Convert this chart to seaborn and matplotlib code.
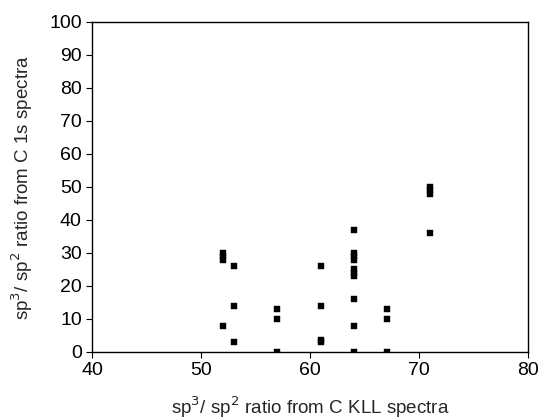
import pandas as pd
import seaborn as sns
import matplotlib.pyplot as plt

# sp3/sp2 ratios: C KLL (x) vs C 1s (y)
kll_ratio = [52, 52, 52, 52,
             53, 53, 53,
             57, 57, 57,
             61, 61, 61, 61,
             64, 64, 64, 64, 64, 64, 64, 64, 64, 64,
             67, 67, 67,
             71, 71, 71, 71]
c1s_ratio = [8, 28, 29, 30,
             3, 14, 26,
             0, 10, 13,
             3, 3.5, 14, 26,
             0, 8, 16, 23, 24, 25, 28, 29, 30, 37,
             0, 10, 13,
             36, 48, 49, 50]

x_ticks = [40, 50, 60, 70, 80]
y_ticks = [0, 10, 20, 30, 40, 50, 60, 70, 80, 90, 100]


def main():
    df = pd.DataFrame({'kll': kll_ratio, 'c1s': c1s_ratio})

    sns.set_style("ticks")
    plt.rcParams['font.family'] = ['Liberation Sans', 'DejaVu Sans']

    fig = plt.figure(figsize=(5.39, 4.19), dpi=100)
    ax = fig.add_axes([0.171, 0.16, 0.809, 0.7875])

    sns.scatterplot(data=df, x='kll', y='c1s', marker='s', s=20, color='black',
                    edgecolor='black', linewidth=0.3, ax=ax)

    ax.set_xlim(40, 80)
    ax.set_ylim(0, 100)
    ax.set_xticks(x_ticks)
    ax.set_yticks(y_ticks)
    ax.tick_params(labelsize=14, length=4, width=0.8, direction='out', colors='black')
    for spine in ax.spines.values():
        spine.set_visible(True)
        spine.set_linewidth(1.0)
        spine.set_color('black')

    ax.set_xlabel('sp$^3$/ sp$^2$ ratio from C KLL spectra', fontsize=13.5, labelpad=11)
    ax.set_ylabel('sp$^3$/ sp$^2$ ratio from C 1s spectra', fontsize=13.5, labelpad=10)

    fig.savefig('out.png', dpi=100)


if __name__ == "__main__":
    main()
